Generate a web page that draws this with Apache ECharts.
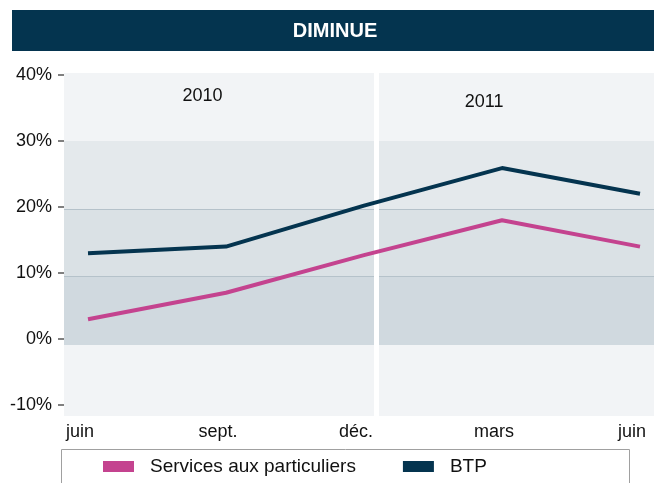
<!DOCTYPE html>
<html>
<head>
<meta charset="utf-8">
<script src="https://cdn.jsdelivr.net/npm/echarts@6/dist/echarts.min.js"></script>
<style>html,body{margin:0;padding:0;background:#fff;}#c{width:654px;height:483px;}</style>
</head>
<body>
<div id="c"></div>
<script>
var categories = ['juin', 'sept.', 'déc.', 'mars', 'juin'];
var servicesValues = [3, 7, 12.7, 18, 14];
var btpValues = [13, 14, 20.2, 25.9, 22];
var seriesNames = ['Services aux particuliers', 'BTP'];
var yearLabels = ['2010', '2011'];
var yearPositions = [[0.83, 36.8], [2.87, 35.9]];
var yearSeparator = 2.094;
var bands = [[30, 19.7], [19.7, 9.55], [9.55, -0.9]];
var gridLines = [19.7, 9.55];
var titleText = 'DIMINUE';

var FONT = 'Liberation Sans, Arial, sans-serif';
var chart = echarts.init(document.getElementById('c'), null, {renderer: 'canvas'});
var bandColors = ['#e4e9ec', '#dae1e5', '#d0d9df'];

var option = {
  backgroundColor: '#ffffff',
  animation: false,
  graphic: [
    {type: 'rect', shape: {x: 12, y: 10, width: 642, height: 41}, style: {fill: '#04344f'}, z: 10},
    {type: 'text', style: {x: 335, y: 31, text: titleText, fill: '#ffffff', font: 'bold 20px ' + FONT, textAlign: 'center', textVerticalAlign: 'middle'}, z: 11},
    {type: 'rect', shape: {x: 61.5, y: 449.5, width: 568, height: 50}, style: {fill: 'none', stroke: '#a0a0a0', lineWidth: 1}, z: 10}
  ],
  grid: [
    {left: 64, right: 0, top: 73, bottom: 67, show: true, backgroundColor: '#f2f4f6', borderWidth: 0},
    {left: 88, right: 14, top: 75, bottom: 78}
  ],
  xAxis: [
    {type: 'value', gridIndex: 0, min: -0.174, max: 4.101, show: false},
    {type: 'category', gridIndex: 1, data: categories, boundaryGap: false,
      axisLine: {show: false}, axisTick: {show: false}, splitLine: {show: false},
      axisLabel: {color: '#111', fontSize: 18, fontFamily: FONT, margin: 18, padding: [0, 16, 0, 0]}}
  ],
  yAxis: [
    {type: 'value', gridIndex: 0, min: -11.667, max: 40.303, show: false},
    {type: 'value', gridIndex: 1, min: -10, max: 40, interval: 10, offset: 24,
      axisLine: {show: false},
      axisTick: {show: true, length: 6, lineStyle: {color: '#808080', width: 2}},
      splitLine: {show: false},
      axisLabel: {color: '#111', fontSize: 18, fontFamily: FONT, margin: 12, formatter: '{value}%'}}
  ],
  legend: {
    left: 98, top: 452, itemWidth: 31, itemHeight: 11, itemGap: 47,
    icon: 'rect',
    textStyle: {color: '#111', fontSize: 19, fontFamily: FONT, padding: [0, 0, 6, 11]},
    data: seriesNames
  },
  series: [
    {
      type: 'line', xAxisIndex: 0, yAxisIndex: 0, data: [], z: 1, silent: true,
      markArea: {
        silent: true,
        data: bands.map(function (b, i) {
          return [{yAxis: b[0], itemStyle: {color: bandColors[i]}}, {yAxis: b[1]}];
        })
      },
      markLine: {
        silent: true, symbol: 'none', label: {show: false},
        lineStyle: {color: '#b5c2ca', width: 1, type: 'solid'},
        data: gridLines.map(function (v) { return {yAxis: v}; })
      }
    },
    {
      type: 'line', xAxisIndex: 0, yAxisIndex: 0, data: [], z: 2, silent: true,
      markLine: {
        silent: true, symbol: 'none', label: {show: false},
        lineStyle: {color: '#ffffff', width: 5, type: 'solid'},
        data: [{xAxis: yearSeparator}]
      },
      markPoint: {
        silent: true, symbol: 'circle', symbolSize: 1, itemStyle: {color: 'rgba(0,0,0,0)'},
        label: {show: true, position: 'inside', color: '#111', fontSize: 18, fontFamily: FONT,
          formatter: function (p) { return p.name; }},
        data: yearLabels.map(function (t, i) { return {name: t, coord: yearPositions[i]}; })
      }
    },
    {
      name: seriesNames[0], type: 'line', xAxisIndex: 1, yAxisIndex: 1, data: servicesValues,
      symbol: 'none', z: 5, lineStyle: {color: '#c4438f', width: 4}, itemStyle: {color: '#c4438f'}
    },
    {
      name: seriesNames[1], type: 'line', xAxisIndex: 1, yAxisIndex: 1, data: btpValues,
      symbol: 'none', z: 5, lineStyle: {color: '#04344f', width: 4}, itemStyle: {color: '#04344f'}
    }
  ]
};
chart.setOption(option);
</script>
</body>
</html>
